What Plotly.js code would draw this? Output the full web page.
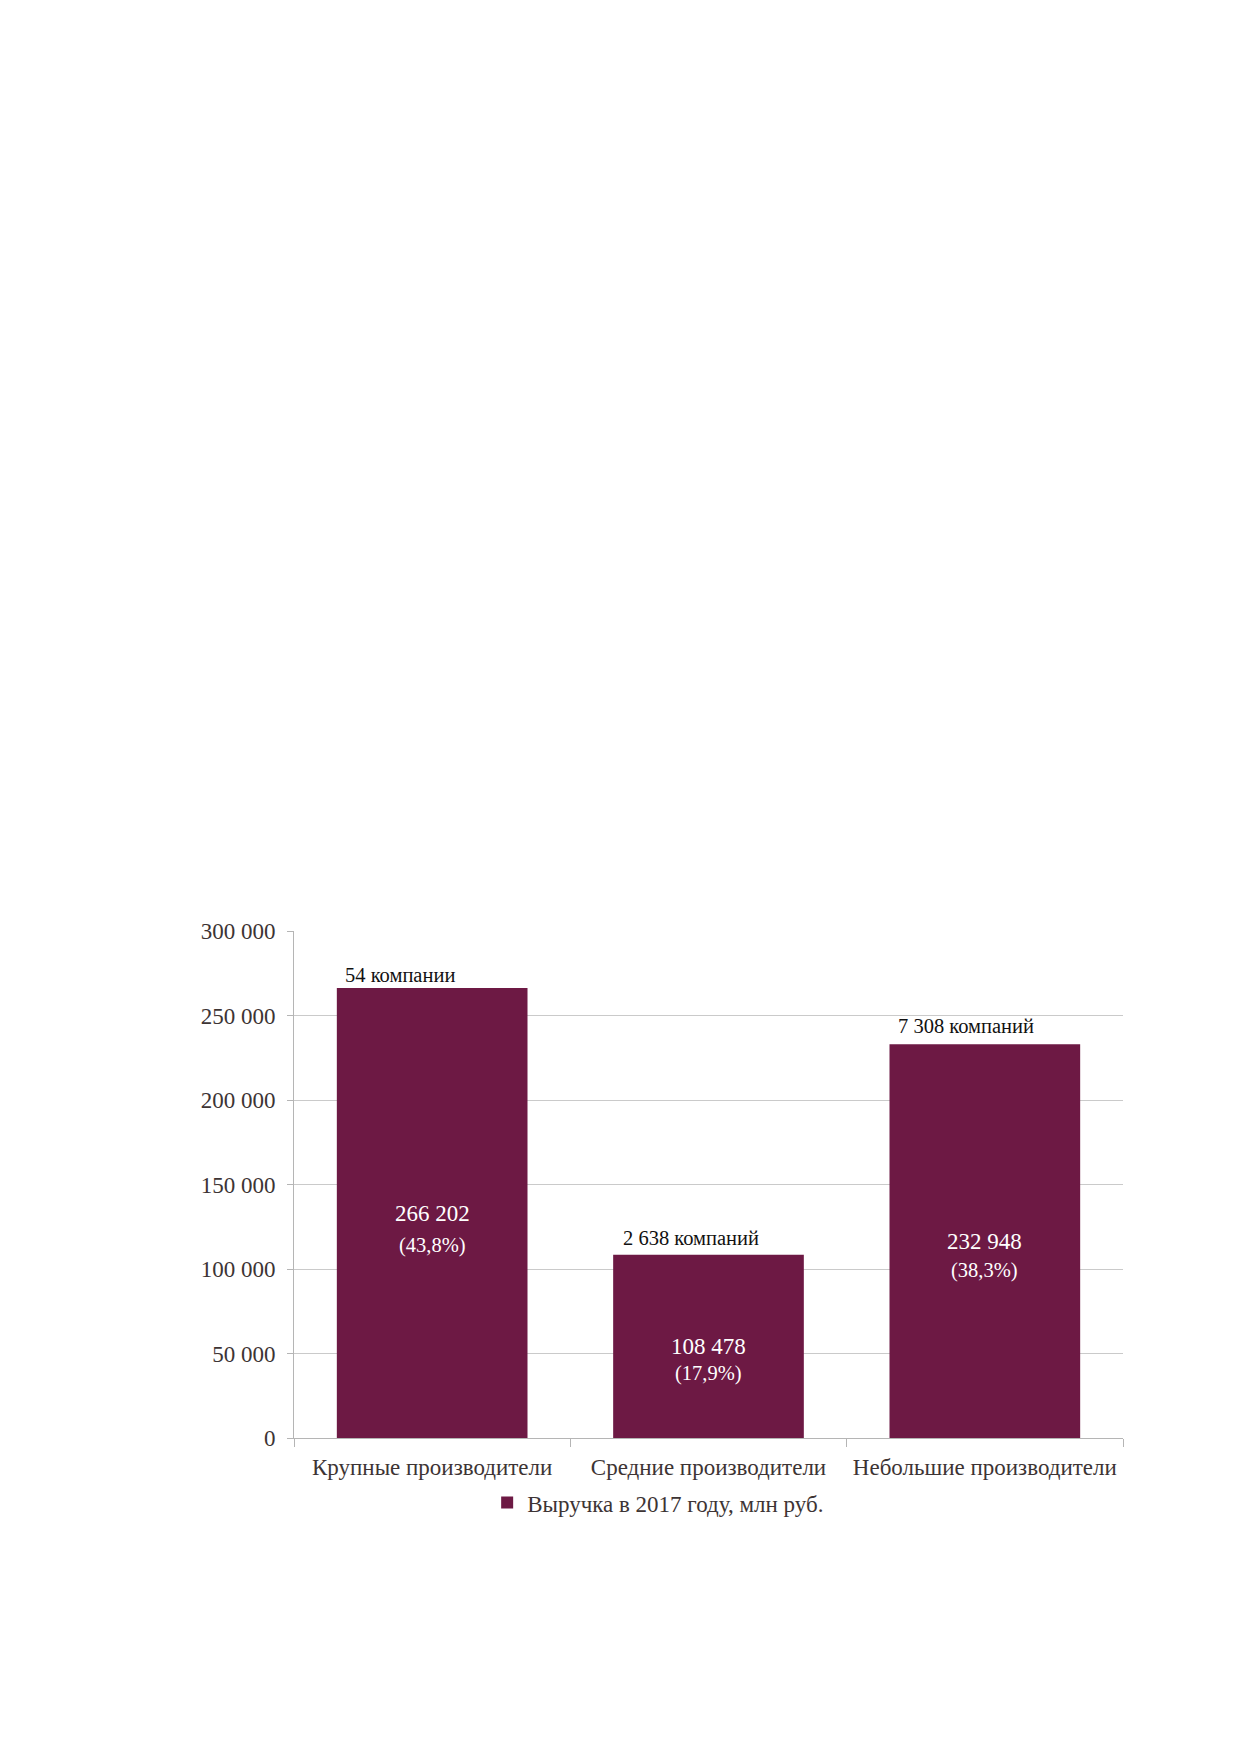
<!DOCTYPE html>
<html>
<head>
<meta charset="utf-8">
<script src="https://cdn.plot.ly/plotly-3.0.1.min.js"></script>
<style>
  html, body { margin: 0; padding: 0; background: #fff; }
  #chart { width: 1239px; height: 1752px; }
</style>
</head>
<body>
<div id="chart"></div>
<script>
// data
var categories = ['Крупные производители', 'Средние производители', 'Небольшие производители'];
var revenue = [266202, 108478, 232948];
var valueLabels = ['266 202', '108 478', '232 948'];
var shareLabels = ['(43,8%)', '(17,9%)', '(38,3%)'];
var companyLabels = ['54 компании', '2 638 компаний', '7 308 компаний'];
var seriesName = 'Выручка в 2017 году, млн руб.';

var serif = 'Liberation Serif, Times New Roman, serif';
var barColor = '#6d1944';
var textGrey = '#3d3434';

var trace = {
    x: categories,
    y: revenue,
    type: 'bar',
    name: seriesName,
    marker: { color: barColor },
    hoverinfo: 'none'
};

var annotations = [];
var shiftAbove = [-32, -18, -19];
var liftAbove = [0, 4, 5];
var shareDrop = [-32, -27, -29];
for (var i = 0; i < categories.length; i++) {
    // count of companies above the bar
    annotations.push({
        x: categories[i], y: revenue[i],
        xref: 'x', yref: 'y',
        text: companyLabels[i],
        showarrow: false,
        yanchor: 'bottom',
        xshift: shiftAbove[i],
        yshift: liftAbove[i],
        font: { family: serif, size: 20.5, color: '#111' }
    });
    // value and share inside the bar
    annotations.push({
        x: categories[i], y: revenue[i] / 2,
        xref: 'x', yref: 'y',
        text: valueLabels[i],
        showarrow: false,
        font: { family: serif, size: 23, color: '#fff' }
    });
    annotations.push({
        x: categories[i], y: revenue[i] / 2,
        xref: 'x', yref: 'y',
        text: shareLabels[i],
        showarrow: false,
        yshift: shareDrop[i],
        font: { family: serif, size: 20.5, color: '#fff' }
    });
}

var layout = {
    width: 1239,
    height: 1752,
    margin: { l: 294, r: 116, t: 931, b: 314 },
    paper_bgcolor: '#fff',
    plot_bgcolor: '#fff',
    separators: ', ',
    bargap: 0.31,
    font: { family: serif, size: 23, color: textGrey },
    xaxis: {
        type: 'category',
        showline: true,
        linecolor: '#b5b5b5',
        linewidth: 1,
        ticks: 'outside',
        tickson: 'boundaries',
        ticklen: 8,
        tickcolor: '#b5b5b5',
        ticklabelstandoff: 8,
        tickfont: { family: serif, size: 23, color: textGrey },
        showgrid: false,
        zeroline: false
    },
    yaxis: {
        range: [0, 300000],
        dtick: 50000,
        tickformat: ',d',
        showline: true,
        linecolor: '#b5b5b5',
        linewidth: 1,
        ticks: 'outside',
        ticklen: 6,
        tickcolor: '#b5b5b5',
        ticklabelstandoff: 7,
        showgrid: true,
        gridcolor: '#cacaca',
        gridwidth: 1,
        zeroline: false,
        tickfont: { family: serif, size: 23, color: textGrey }
    },
    showlegend: true,
    legend: {
        orientation: 'h',
        x: 0.233,
        xanchor: 'left',
        y: -0.085,
        yanchor: 'top',
        font: { family: serif, size: 23, color: textGrey },
        bgcolor: 'rgba(0,0,0,0)'
    },
    annotations: annotations
};

Plotly.newPlot('chart', [trace], layout, { staticPlot: true, displayModeBar: false });
</script>
</body>
</html>
